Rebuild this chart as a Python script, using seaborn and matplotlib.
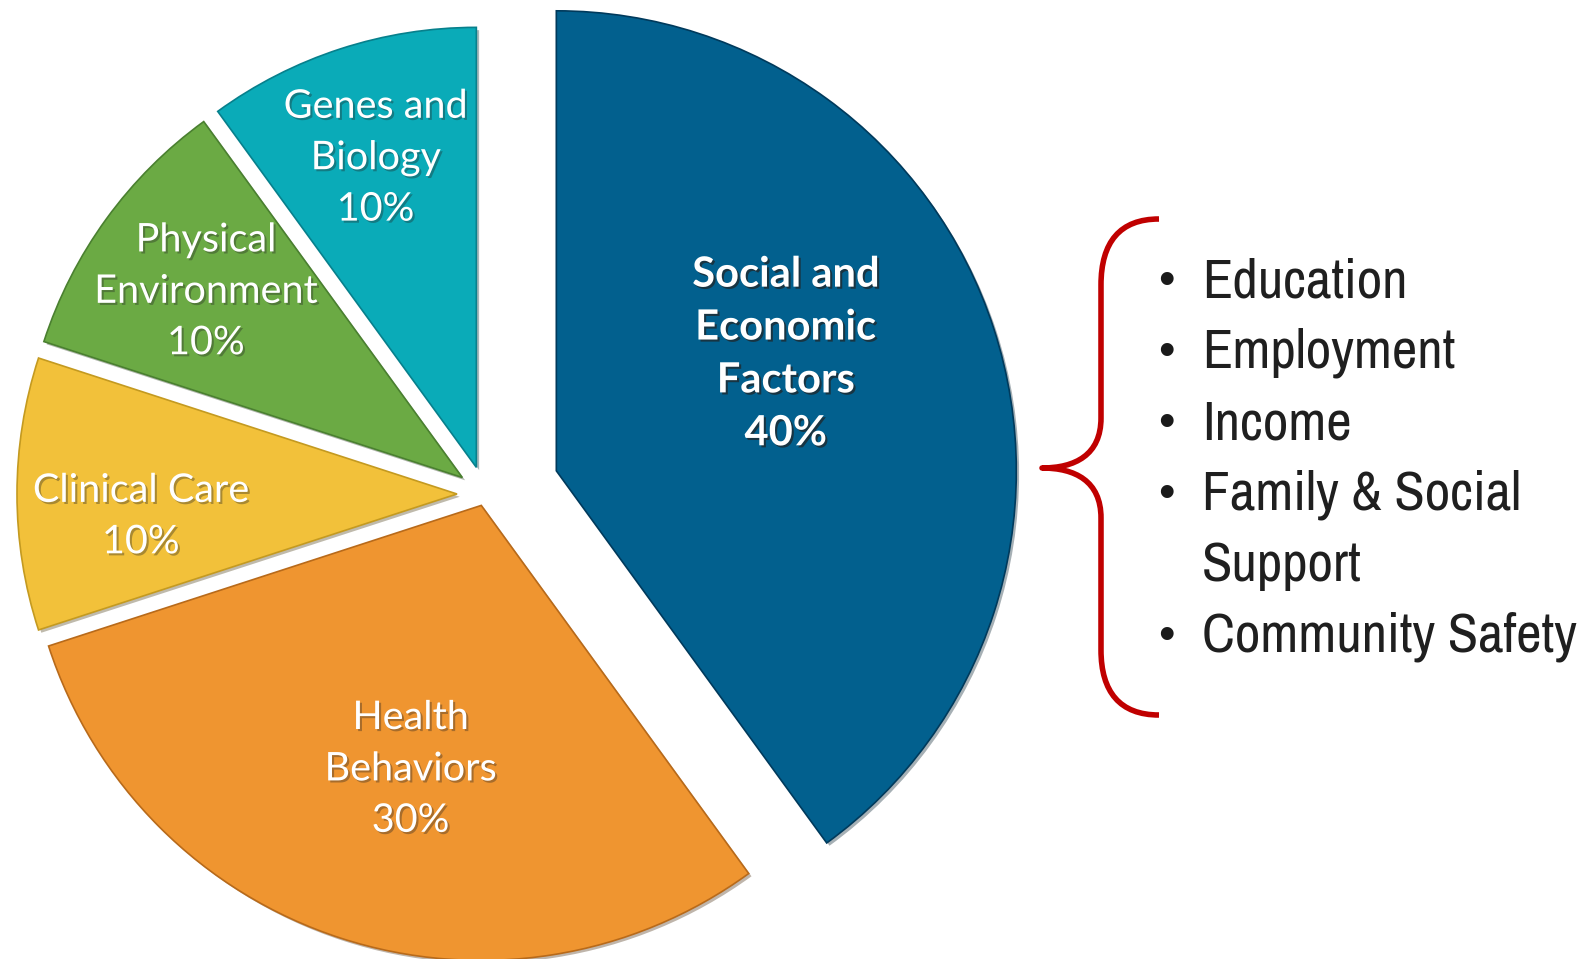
import numpy as np
import matplotlib
matplotlib.use("Agg")
import matplotlib.pyplot as plt
import matplotlib.patheffects as pe
from matplotlib.path import Path
from matplotlib.patches import PathPatch
import seaborn as sns

# data
factors = ["Social and\nEconomic\nFactors", "Health\nBehaviors", "Clinical Care",
           "Physical\nEnvironment", "Genes and\nBiology"]
shares = [40, 30, 10, 10, 10]
colors = ["#02608E", "#EF9530", "#F2C13A", "#6BAA44", "#0AABB8"]
social_items = ["Education", "Employment", "Income", "Family & Social", "Support",
                "Community Safety"]
item_bullet = [True, True, True, True, False, True]

W, H = 1594, 959

sns.set_theme(style="white")
plt.rcParams["font.family"] = ["Lato", "DejaVu Sans"]

fig = plt.figure(figsize=(W / 100, H / 100), dpi=100)
ax = fig.add_axes([0, 0, 1, 1])

def py(y):
    return H - y

center = (485, py(494))
radius = 440
explode = [75, 12, 28, 28, 28]
wedge_r = [460, 455, 440, 440, 440]

wedges, _ = ax.pie(shares, colors=colors, startangle=90, counterclock=False,
                   center=center, radius=radius, explode=explode,
                   wedgeprops=dict(linewidth=1.2))
shadow = [pe.SimplePatchShadow(offset=(2, -2), alpha=0.35), pe.Normal()]
edge_cols = ["#003A5C", "#B86A1A", "#C49A20", "#4A8030", "#07808C"]
for w, ec, r in zip(wedges, edge_cols, wedge_r):
    w.set_edgecolor(ec)
    w.set_radius(r)
    w.set_path_effects(shadow)

# labels placed along each wedge's mid angle
label_r = [0.585, 0.62, 0.72, 0.72, 0.74]
label_shift = [9, 3, 4, 0, 0]
for i, w in enumerate(wedges):
    ang = np.deg2rad((w.theta1 + w.theta2) / 2 + label_shift[i])
    cx, cy = w.center
    x = cx + label_r[i] * radius * np.cos(ang)
    y = cy + label_r[i] * radius * np.sin(ang)
    txt = f"{factors[i]}\n{shares[i]}%"
    bold = i == 0
    t = ax.text(x, y, txt, ha="center", va="center", color="white",
                fontsize=30 if bold else 28.5, fontweight="bold" if bold else "normal",
                linespacing=1.48)
    t.set_path_effects([pe.withSimplePatchShadow(offset=(1.5, -1.5),
                                                 shadow_rgbFace="#222222",
                                                 alpha=0.7 if bold else 0.35)])

# red brace
verts = [(1159, 219), (1120, 219), (1101, 242), (1101, 285),
         (1101, 418),
         (1101, 455), (1075, 468), (1042, 468),
         (1075, 468), (1101, 481), (1101, 518),
         (1101, 650),
         (1101, 692), (1120, 715), (1159, 715)]
codes = [Path.MOVETO, Path.CURVE4, Path.CURVE4, Path.CURVE4,
         Path.LINETO,
         Path.CURVE4, Path.CURVE4, Path.CURVE4,
         Path.CURVE4, Path.CURVE4, Path.CURVE4,
         Path.LINETO,
         Path.CURVE4, Path.CURVE4, Path.CURVE4]
brace = Path([(x, py(y)) for x, y in verts], codes)
ax.add_patch(PathPatch(brace, facecolor="none", edgecolor="#C00000", lw=4,
                       capstyle="butt", joinstyle="round"))

# bullet list
y0, dy = 282, 71
for k, (item, b) in enumerate(zip(social_items, item_bullet)):
    yy = py(y0 + k * dy)
    if b:
        ax.text(1166, yy, "\u2022", ha="center", va="center", fontsize=34,
                color="#1a1a1a", family=["Liberation Sans", "DejaVu Sans"])
    ax.text(1202, yy, item, ha="left", va="center", fontsize=40, color="#1f1f1f",
            family=["Archivo Narrow", "Liberation Sans", "DejaVu Sans"])

ax.set_xlim(0, W)
ax.set_ylim(0, H)
ax.set_aspect("equal")
ax.axis("off")

fig.savefig("out.png", dpi=100, facecolor="white")
